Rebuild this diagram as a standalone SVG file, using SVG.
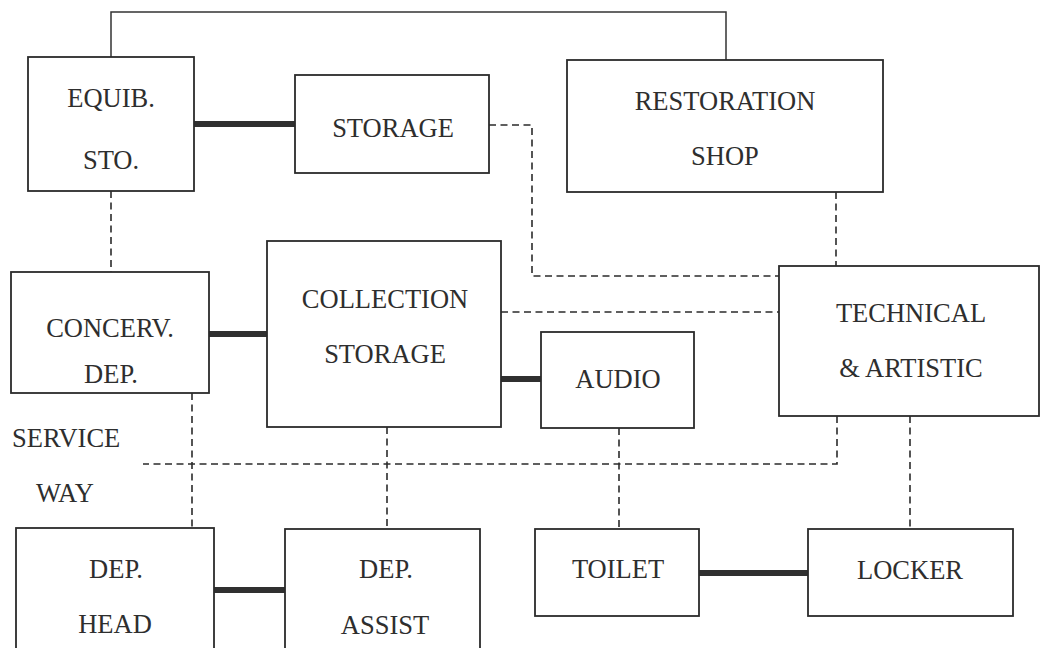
<svg xmlns="http://www.w3.org/2000/svg" width="1041" height="648" viewBox="0 0 1041 648">
  <style>
    .box { fill: #ffffff; stroke: #2b2b2b; stroke-width: 1.8; }
    .lbl { font-family: "Liberation Serif", "Times New Roman", serif; font-size: 26.5px; fill: #2e2e2e; text-anchor: middle; }
    .free { text-anchor: start; }
    .thin { fill: none; stroke: #333333; stroke-width: 1.5; }
    .thick { fill: none; stroke: #303030; stroke-width: 6; }
    .dash { fill: none; stroke: #2b2b2b; stroke-width: 1.6; stroke-dasharray: 7 4.5; }
  </style>
  <rect width="1041" height="648" fill="#ffffff"/>

  <!-- connectors -->
  <g id="connectors">
    <!-- solid overhead link -->
    <polyline class="thin" points="111,57 111,12 726,12 726,60"/>
    <!-- heavy direct links -->
    <line class="thick" x1="194" y1="124" x2="295" y2="124"/>
    <line class="thick" x1="209" y1="334" x2="267" y2="334"/>
    <line class="thick" x1="501" y1="379" x2="541" y2="379"/>
    <line class="thick" x1="214" y1="590" x2="285" y2="590"/>
    <line class="thick" x1="699" y1="573" x2="808" y2="573"/>
    <!-- dashed links -->
    <polyline class="dash" points="489,125 532,125 532,276 779,276"/>
    <line class="dash" x1="111" y1="191" x2="111" y2="272"/>
    <line class="dash" x1="836" y1="192" x2="836" y2="266"/>
    <line class="dash" x1="501" y1="312" x2="779" y2="312"/>
    <line class="dash" x1="192" y1="393" x2="192" y2="528"/>
    <line class="dash" x1="387" y1="427" x2="387" y2="529"/>
    <line class="dash" x1="619" y1="428" x2="619" y2="529"/>
    <polyline class="dash" points="837,416 837,464 143,464"/>
    <line class="dash" x1="910" y1="416" x2="910" y2="529"/>
  </g>

  <g id="equip-sto">
    <rect class="box" x="28" y="57" width="166" height="134"/>
    <text class="lbl" x="111" y="107">EQUIB.</text>
    <text class="lbl" x="111" y="169">STO.</text>
  </g>
  <g id="storage">
    <rect class="box" x="295" y="75" width="194" height="98"/>
    <text class="lbl" x="393" y="137">STORAGE</text>
  </g>
  <g id="restoration-shop">
    <rect class="box" x="567" y="60" width="316" height="132"/>
    <text class="lbl" x="725" y="110">RESTORATION</text>
    <text class="lbl" x="725" y="165">SHOP</text>
  </g>
  <g id="concerv-dep">
    <rect class="box" x="11" y="272" width="198" height="121"/>
    <text class="lbl" x="110" y="337">CONCERV.</text>
    <text class="lbl" x="111" y="383">DEP.</text>
  </g>
  <g id="collection-storage">
    <rect class="box" x="267" y="241" width="234" height="186"/>
    <text class="lbl" x="385" y="308">COLLECTION</text>
    <text class="lbl" x="385" y="363">STORAGE</text>
  </g>
  <g id="audio">
    <rect class="box" x="541" y="332" width="153" height="96"/>
    <text class="lbl" x="618" y="388">AUDIO</text>
  </g>
  <g id="technical-artistic">
    <rect class="box" x="779" y="266" width="260" height="150"/>
    <text class="lbl" x="911" y="322">TECHNICAL</text>
    <text class="lbl" x="911" y="377">&amp; ARTISTIC</text>
  </g>
  <g id="service-way">
    <text class="lbl free" x="12" y="447">SERVICE</text>
    <text class="lbl free" x="36" y="502">WAY</text>
  </g>
  <g id="dep-head">
    <rect class="box" x="16" y="528" width="198" height="140"/>
    <text class="lbl" x="116" y="578">DEP.</text>
    <text class="lbl" x="115" y="633">HEAD</text>
  </g>
  <g id="dep-assist">
    <rect class="box" x="285" y="529" width="195" height="140"/>
    <text class="lbl" x="386" y="578">DEP.</text>
    <text class="lbl" x="385" y="634">ASSIST</text>
  </g>
  <g id="toilet">
    <rect class="box" x="535" y="529" width="164" height="87"/>
    <text class="lbl" x="618" y="578">TOILET</text>
  </g>
  <g id="locker">
    <rect class="box" x="808" y="529" width="205" height="87"/>
    <text class="lbl" x="910" y="579">LOCKER</text>
  </g>
</svg>
